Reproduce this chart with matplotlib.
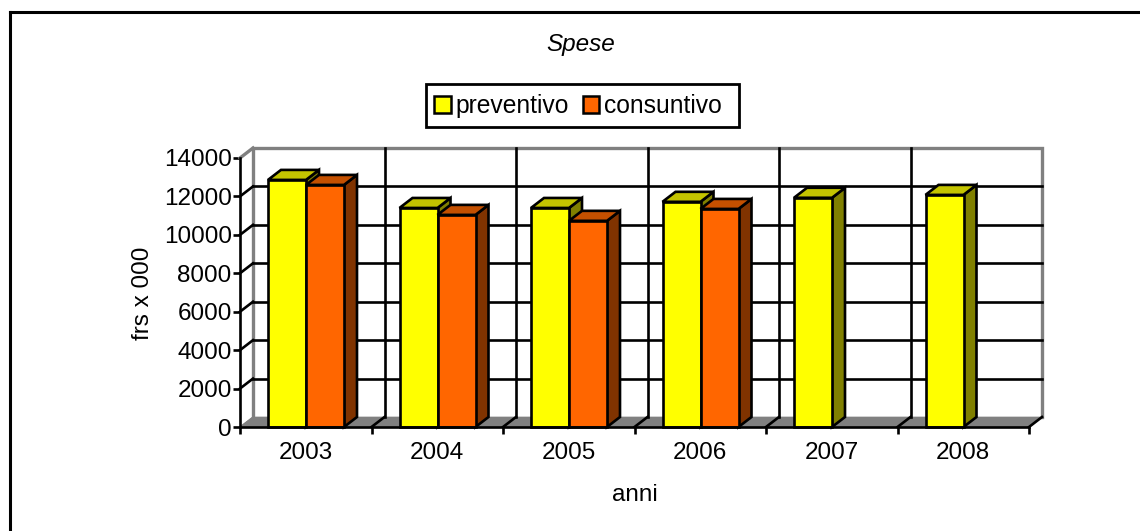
import matplotlib
matplotlib.use('Agg')
import matplotlib.pyplot as plt
from matplotlib.patches import Polygon, Rectangle
from matplotlib.lines import Line2D

plt.rcParams['font.family'] = ['Liberation Sans', 'DejaVu Sans']

# values
years = ['2003', '2004', '2005', '2006', '2007', '2008']
preventivo = [12860, 11400, 11400, 11720, 11930, 12080]
consuntivo = [12600, 11040, 10730, 11350, None, None]
y_ticks = [0, 2000, 4000, 6000, 8000, 10000, 12000, 14000]

W, H = 1140, 531
fig = plt.figure(figsize=(W / 100, H / 100), dpi=100)

# page frame, only the top and left edges are in the picture
fig.add_artist(Line2D([10 / W, 10 / W], [0, 1 - 12 / H], color='black', linewidth=2.2))
fig.add_artist(Line2D([10 / W, 1], [1 - 12 / H, 1 - 12 / H], color='black', linewidth=2.2))

# axes = front face of the 3d box
left, right, top, bottom = 240, 1029, 158, 427
ax = fig.add_axes([left / W, 1 - bottom / H, (right - left) / W, (bottom - top) / H])
ax.set_xlim(0, 6)
ax.set_ylim(0, 14000)
ax.patch.set_visible(False)

# depth of the box in data units
dx = 13 / ((right - left) / 6)
dy = 10 / ((bottom - top) / 14000)
lw = 1.9
fs = 17.5

# floor and back wall
ax.add_patch(Polygon([(0, 0), (6, 0), (6 + dx, dy), (dx, dy)], closed=True, facecolor='#808080',
                     edgecolor='#808080', linewidth=0.5, clip_on=False, zorder=1))
ax.plot([dx, dx, 6 + dx, 6 + dx], [dy, 14000 + dy, 14000 + dy, dy], color='#808080', linewidth=2.4,
        clip_on=False, zorder=2, solid_joinstyle='miter')
ax.plot([0, dx], [14000, 14000 + dy], color='#808080', linewidth=2.4, clip_on=False, zorder=2)

# grid on the back wall, with the little slants at the axes
for v in y_ticks[1:-1]:
    ax.plot([dx, 6 + dx], [v + dy, v + dy], color='black', linewidth=lw, clip_on=False, zorder=2)
    ax.plot([0, dx], [v, v + dy], color='black', linewidth=lw, clip_on=False, zorder=3)
for i in range(1, 6):
    ax.plot([i + dx, i + dx], [dy, 14000 + dy], color='black', linewidth=lw, clip_on=False, zorder=2)
    ax.plot([i, i + dx], [0, dy], color='black', linewidth=lw, clip_on=False, zorder=3)
ax.plot([0, dx], [0, dy], color='#808080', linewidth=1, clip_on=False, zorder=3)
ax.plot([6, 6 + dx], [0, dy], color='black', linewidth=lw, clip_on=False, zorder=3)


def bar3d(x0, w, val, front, top_col, side, z):
    if val is None:
        return
    ax.add_patch(Polygon([(x0 + w, 0), (x0 + w + dx, dy), (x0 + w + dx, val + dy), (x0 + w, val)],
                         closed=True, facecolor=side, edgecolor='black', linewidth=lw,
                         clip_on=False, zorder=z))
    ax.add_patch(Polygon([(x0, val), (x0 + w, val), (x0 + w + dx, val + dy), (x0 + dx, val + dy)],
                         closed=True, facecolor=top_col, edgecolor='black', linewidth=lw,
                         clip_on=False, zorder=z))
    ax.bar(x0, val, w, align='edge', color=front, edgecolor='black', linewidth=lw, clip_on=False, zorder=z + 0.1)


bar_w = 38 / ((right - left) / 6)
first = 28 / ((right - left) / 6)
for i in range(len(years)):
    x0 = i + first
    bar3d(x0, bar_w, preventivo[i], '#FFFF00', '#C4C400', '#808000', 5)
    bar3d(x0 + bar_w, bar_w, consuntivo[i], '#FF6600', '#C45000', '#803300', 6)

# axes
for s in ['top', 'right']:
    ax.spines[s].set_visible(False)
for s in ['left', 'bottom']:
    ax.spines[s].set_linewidth(lw)
    ax.spines[s].set_zorder(10)
ax.set_yticks(y_ticks)
ax.set_yticklabels([str(v) for v in y_ticks], fontsize=fs)
ax.set_xticks(range(7))
ax.set_xticklabels([])
ax.set_xticks([i + 0.5 for i in range(6)], minor=True)
ax.set_xticklabels(years, minor=True, fontsize=fs)
ax.tick_params(axis='x', which='major', length=5, width=lw, direction='out')
ax.tick_params(axis='x', which='minor', length=0, pad=11)
ax.tick_params(axis='y', length=5, width=lw, pad=1)

fig.text(143 / W, 1 - 293 / H, 'frs x 000', rotation=90, ha='center', va='center', fontsize=fs)
fig.text(635 / W, 1 - 495 / H, 'anni', ha='center', va='center', fontsize=fs)
fig.text(580.5 / W, 1 - 45 / H, 'Spese', ha='center', va='center', fontsize=fs, style='italic')

# legend box, drawn by hand since the padding is not even on both sides
fig.add_artist(Rectangle((426 / W, 1 - 127 / H), 313 / W, 43 / H, transform=fig.transFigure,
                         facecolor='white', edgecolor='black', linewidth=2))
leg = [Rectangle((0, 0), 1, 1, facecolor='#FFFF00', edgecolor='black', linewidth=1.8),
       Rectangle((0, 0), 1, 1, facecolor='#FF6600', edgecolor='black', linewidth=1.8)]
lg = fig.legend(leg, ['preventivo', 'consuntivo'], ncol=2, loc='center', bbox_to_anchor=(578 / W, 1 - 106 / H),
                fontsize=17.7, frameon=False, handlelength=0.68, handleheight=0.68, handletextpad=0.2,
                columnspacing=0.55, borderpad=0, borderaxespad=0)

fig.savefig('out.png', dpi=100)
